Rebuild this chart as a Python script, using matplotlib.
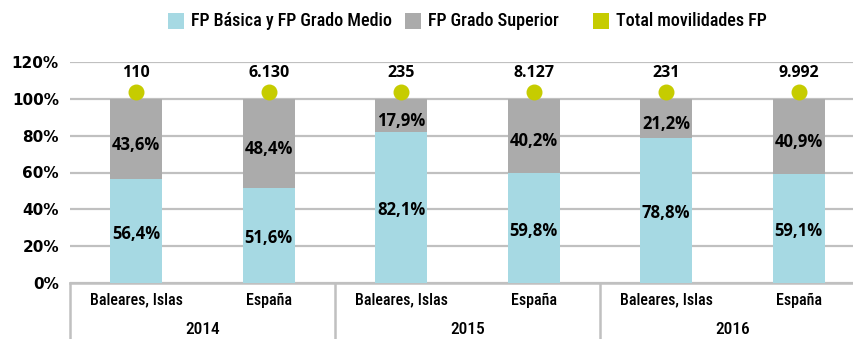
import matplotlib
matplotlib.use("Agg")
import matplotlib.pyplot as plt
from matplotlib.patches import Rectangle

# Series values (share of each FP level, %) and total mobilities
years = ["2014", "2015", "2016"]
regions = ["Baleares, Islas", "España"]
basica_medio = [56.4, 51.6, 82.1, 59.8, 78.8, 59.1]
grado_superior = [43.6, 48.4, 17.9, 40.2, 21.2, 40.9]
total_movilidades = [110, 6130, 235, 8127, 231, 9992]
series_names = ["FP Básica y FP Grado Medio", "FP Grado Superior", "Total movilidades FP"]

C_BLUE = "#a6d9e3"
C_GREY = "#ababab"
C_DOT = "#c6cc00"
C_GRID = "#c0c0c0"

COND = ["Roboto Condensed", "DejaVu Sans"]
NUMS = ["Open Sans", "DejaVu Sans"]


def fmt_thousands(n):
    return f"{n:,}".replace(",", ".")


def fmt_pct(v):
    return f"{v:.1f}%".replace(".", ",")


W, H = 854, 339
fig = plt.figure(figsize=(W / 100, H / 100), dpi=100)
ax_left, ax_right = 70 / W, 865 / W
ax_bottom, ax_top = (H - 283) / H, (H - 62) / H
ax = fig.add_axes([ax_left, ax_bottom, ax_right - ax_left, ax_top - ax_bottom])

x = list(range(len(basica_medio)))
ax.bar(x, basica_medio, width=0.39, color=C_BLUE, zorder=3)
ax.bar(x, grado_superior, width=0.39, bottom=basica_medio, color=C_GREY, zorder=3)

# segment labels
for xi, b, s in zip(x, basica_medio, grado_superior):
    ax.text(xi, b / 2 - 1.5, fmt_pct(b), ha="center", va="center",
            fontsize=12, fontweight="bold", family=NUMS, zorder=4)
    ax.text(xi, b + s / 2 - 3.0, fmt_pct(s), ha="center", va="center",
            fontsize=12, fontweight="bold", family=NUMS, zorder=4)

# total mobilities marker row
dot_y = 103.7
ax.scatter(x, [dot_y] * len(x), s=110, color=C_DOT, zorder=5, clip_on=False)
for xi, t in zip(x, total_movilidades):
    ax.text(xi, dot_y + 10.5, fmt_thousands(t), ha="center", va="center",
            fontsize=11.5, fontweight="bold", family=NUMS, zorder=5)

ax.set_xlim(-0.5, len(x) - 0.5)
ax.set_ylim(0, 120)
ax.set_yticks(range(0, 121, 20))
ax.set_yticklabels([f"{v}%" for v in range(0, 121, 20)],
                   fontsize=11, fontweight="bold", family="DejaVu Sans")
ax.tick_params(axis="y", length=0, pad=8)
ax.set_xticks([])
ax.grid(axis="y", color=C_GRID, linewidth=1.6, zorder=0)
for sp in ax.spines.values():
    sp.set_visible(False)

# two-level category axis below the plot
trans = ax.get_xaxis_transform()
px = 1 / (ax_top - ax_bottom) / H
ax.plot([-0.5, len(x) - 0.5], [0, 0], transform=trans, color=C_GRID,
        linewidth=1.8, clip_on=False, zorder=2)
for k in range(len(years) + 1):
    xs = -0.5 + 2 * k
    ax.plot([xs, xs], [0, -60 * px], transform=trans, color=C_GRID,
            linewidth=1.8, clip_on=False)
for i, xi in enumerate(x):
    ax.text(xi, -17 * px, regions[i % 2], transform=trans, ha="center",
            va="center", fontsize=11.5, fontweight="medium", family=COND)
for k, yr in enumerate(years):
    ax.text(2 * k + 0.5, -47 * px, yr, transform=trans, ha="center",
            va="center", fontsize=12.5, fontweight="medium", family=COND)

# legend row: square swatch + label, laid out left to right
swatch_colors = [C_BLUE, C_GREY, C_DOT]
swatch_x = [168, 405, 593]
for name, col, sx in zip(series_names, swatch_colors, swatch_x):
    fig.add_artist(Rectangle((sx / W, 1 - 29 / H), 16 / W, 16 / H,
                             transform=fig.transFigure, color=col, lw=0))
    fig.text((sx + 23) / W, 1 - 21 / H, name, ha="left", va="center",
             fontsize=13, fontweight="medium", family=COND)

fig.savefig("out.png", dpi=100)
